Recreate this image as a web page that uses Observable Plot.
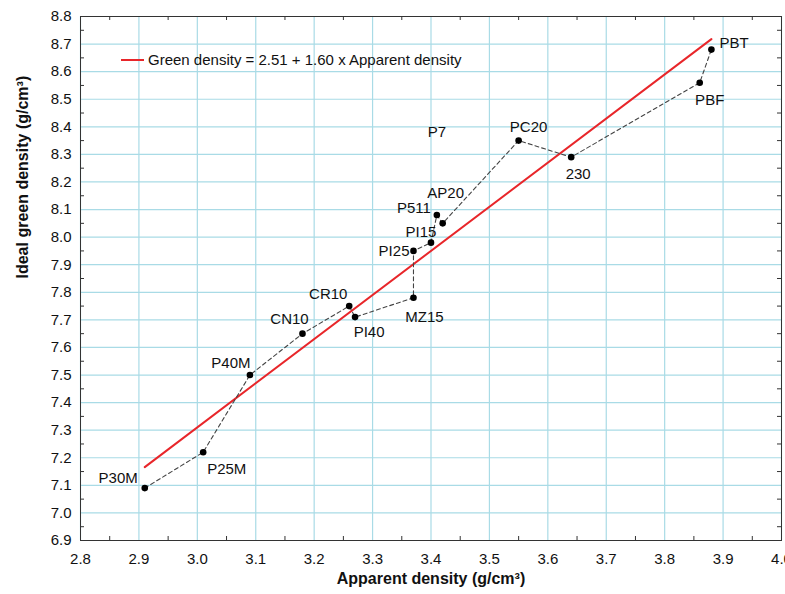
<!DOCTYPE html>
<html><head><meta charset="utf-8">
<script src="https://cdn.jsdelivr.net/npm/d3@7"></script>
<script src="https://cdn.jsdelivr.net/npm/@observablehq/plot@0.6"></script>
<style>
body{margin:0;background:#fff;font-family:'Liberation Sans',Arial,sans-serif;overflow:hidden}
#wrap{position:relative;width:785px;height:594px}
#wrap svg{overflow:visible}
#legline{position:absolute;left:121px;top:59px;width:23px;height:0;border-top:2px solid #e8262a}
#legtext{position:absolute;left:148px;top:51px;font-size:15px;line-height:18px;color:#111;white-space:nowrap}
</style>
</head><body><div id="wrap"></div>
<script>
const names = ["P30M","P25M","P40M","CN10","CR10","PI40","MZ15","PI25","PI15","P511","AP20","PC20","230","PBF","PBT"];
const apparent = [2.91,3.01,3.09,3.18,3.26,3.27,3.37,3.37,3.40,3.41,3.42,3.55,3.64,3.86,3.88];
const green = [7.09,7.22,7.50,7.65,7.75,7.71,7.78,7.95,7.98,8.08,8.05,8.35,8.29,8.56,8.68];
const extraName = "P7", extraX = 3.41, extraY = 8.38;
const fitIntercept = 2.51, fitSlope = 1.60;
const legendLabel = "Green density = 2.51 + 1.60 x Apparent density";
const xLabel = "Apparent density (g/cm³)";
const yLabel = "Ideal green density (g/cm³)";
const xTicks = d3.range(28, 41).map(d => d / 10);
const yTicks = d3.range(69, 89).map(d => d / 10);
const xMinor = d3.range(28, 40).map(d => (d + 0.5) / 10);
const yMinor = d3.range(69, 88).map(d => (d + 0.5) / 10);

// label placement (style): [textAnchor, dx, dy]
const placement = {
  P30M: ["end", -7, -10], P25M: ["start", 4, 17], P40M: ["middle", -19, -12],
  CN10: ["middle", -13, -14], CR10: ["middle", -21, -12], PI40: ["middle", 14, 15],
  MZ15: ["middle", 11, 19], PI25: ["end", -4, 0], PI15: ["middle", -10, -10],
  P511: ["end", -6, -7], AP20: ["middle", 3, -30], PC20: ["middle", 10, -13],
  "230": ["middle", 7, 17], PBF: ["middle", 10, 17], PBT: ["start", 8, -6]
};

const points = names.map((n, i) => ({name: n, x: apparent[i], y: green[i]}));
const [xmin, xmax] = d3.extent(apparent);
const fit = [xmin, xmax].map(x => ({x, y: fitIntercept + fitSlope * x}));

const W = 785, H = 594, mL = 80, mR = 4, mT = 16, mB = 54;
const innerW = W - mL - mR, innerH = H - mT - mB;
const grid = "#a9dbe6", axisCol = "#333";

const labelMarks = points.map(p => {
  const [a, dx, dy] = placement[p.name];
  return Plot.text([p], {x: "x", y: "y", text: "name", textAnchor: a, dx, dy, fontSize: 15, fill: "#111"});
});

const chart = Plot.plot({
  width: W, height: H,
  marginLeft: mL, marginRight: mR, marginTop: mT, marginBottom: mB,
  style: {fontFamily: "'Liberation Sans', Arial, sans-serif", fontSize: "15px", background: "#fff", overflow: "visible"},
  x: {domain: [2.8, 4.0]},
  y: {domain: [6.9, 8.8]},
  marks: [
    Plot.gridX(xTicks, {stroke: grid, strokeOpacity: 1, strokeWidth: 1.2}),
    Plot.gridY(yTicks, {stroke: grid, strokeOpacity: 1, strokeWidth: 1.2}),
    Plot.tickX(xMinor, {x: d => d, insetTop: innerH - 4, stroke: axisCol}),
    Plot.tickX(xMinor, {x: d => d, insetBottom: innerH - 4, stroke: axisCol}),
    Plot.tickY(yMinor, {y: d => d, insetRight: innerW - 4, stroke: axisCol}),
    Plot.tickY(yMinor, {y: d => d, insetLeft: innerW - 4, stroke: axisCol}),
    Plot.frame({stroke: axisCol, strokeWidth: 1}),
    Plot.axisX(xTicks, {tickSize: 0, tickPadding: 13, tickFormat: d3.format(".1f"), label: null, fontSize: 15, fill: "#111"}),
    Plot.axisY(yTicks, {tickSize: 0, tickPadding: 9, tickFormat: d3.format(".1f"), label: null, fontSize: 15, fill: "#111"}),
    Plot.line(fit, {x: "x", y: "y", stroke: "#e8262a", strokeWidth: 2}),
    Plot.line(points, {x: "x", y: "y", stroke: "#444", strokeWidth: 1.1, strokeDasharray: "4,3"}),
    Plot.dot(points, {x: "x", y: "y", r: 3.3, fill: "#000"}),
    ...labelMarks,
    Plot.text([extraName], {x: () => extraX, y: () => extraY, text: d => d, fontSize: 15, fill: "#111"}),
    Plot.text([xLabel], {frameAnchor: "bottom", dy: 43, text: d => d, fontWeight: "bold", fontSize: 16, fill: "#111"}),
    Plot.text([yLabel], {frameAnchor: "left", dx: -58, rotate: -90, text: d => d, fontWeight: "bold", fontSize: 16, fill: "#111"})
  ]
});
const wrap = document.getElementById("wrap");
wrap.appendChild(chart);
const ll = document.createElement("div"); ll.id = "legline"; wrap.appendChild(ll);
const lt = document.createElement("div"); lt.id = "legtext"; lt.textContent = legendLabel; wrap.appendChild(lt);
</script>
</body></html>
